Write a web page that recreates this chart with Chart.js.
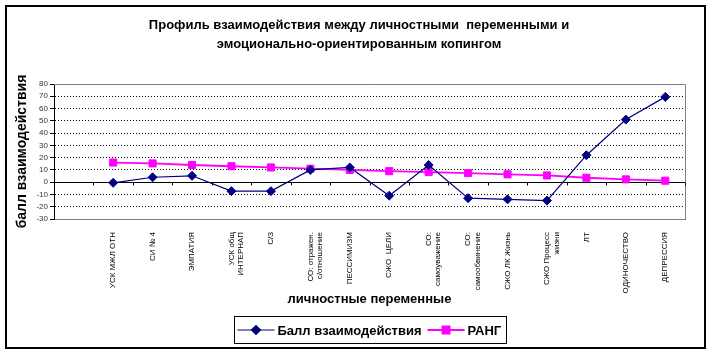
<!DOCTYPE html>
<html>
<head>
<meta charset="utf-8">
<script src="https://cdn.jsdelivr.net/npm/chart.js@4"></script>
<style>
  html, body { margin: 0; padding: 0; background: #fff; }
  #wrap { width: 713px; height: 354px; position: relative; }
</style>
</head>
<body>
<div id="wrap"><canvas id="chart"></canvas></div>
<script>
// Data
const categories = ['', 'УСК МЖЛ ОТН', 'СИ № 4', 'ЭМПАТИЯ', ['УСК общ', 'ИНТЕРНАП'], 'С/З',
    ['СО: отражен.', 'с/отношение'], 'ПЕССИМИЗМ', 'СЖО  ЦЕЛИ', ['СО:', 'самоуважение'],
    ['СО:', 'самообвинение'], 'СЖО ЛК Жизнь', ['СЖО Процесс', 'жизни'], 'ЛТ', 'ОДИНОЧЕСТВО', 'ДЕПРЕССИЯ'];
const scoreValues = [null, -0.5, 4, 5.2, -7.3, -7.3, 10, 12, -11, 14, -13, -14, -15, 22, 51, 69.5];
const rankValues = [null, 16, 15.3, 14, 13, 12, 11, 10, 9, 8.2, 7.4, 6.4, 5.5, 3.6, 2.3, 1.2];
const yTicks = { min: -30, max: 80, step: 10 };

const chartTitle = ['Профиль взаимодействия между личностными  переменными и', 'эмоционально-ориентированным копингом'];
const FONT = "'Liberation Sans', Arial, sans-serif";

// Decorations: outer frame, title, plot frame, ticks on the zero line, boxed legend
const decorPlugin = {
    id: 'decor',
    afterDraw(chart) {
        const ctx = chart.ctx;
        const area = chart.chartArea;
        const x = chart.scales.x;
        const y = chart.scales.y;
        ctx.save();

        // outer frame
        ctx.strokeStyle = '#000';
        ctx.lineWidth = 2;
        ctx.strokeRect(6, 6, 699, 342);

        // title
        ctx.fillStyle = '#000';
        ctx.font = 'bold 13px ' + FONT;
        ctx.textAlign = 'center';
        ctx.textBaseline = 'middle';
        ctx.fillText(chartTitle[0], 359, 25);
        ctx.fillText(chartTitle[1], 359, 44);

        // gray plot frame (top, right)
        ctx.strokeStyle = '#808080';
        ctx.lineWidth = 1;
        ctx.beginPath();
        ctx.moveTo(area.left, area.top + 0.5);
        ctx.lineTo(area.right + 0.5, area.top + 0.5);
        ctx.lineTo(area.right + 0.5, area.bottom);
        ctx.stroke();

        // category ticks on the zero line
        const y0 = Math.round(y.getPixelForValue(0)) + 0.5;
        const half = (x.getPixelForValue(1) - x.getPixelForValue(0)) / 2;
        ctx.strokeStyle = '#000';
        ctx.beginPath();
        for (let i = 0; i < categories.length; i++) {
            const px = Math.round(x.getPixelForValue(i) + half) + 0.5;
            ctx.moveTo(px, y0);
            ctx.lineTo(px, y0 + 3);
        }
        ctx.stroke();

        // legend
        ctx.font = 'bold 13px ' + FONT;
        ctx.textAlign = 'left';
        const sets = chart.data.datasets;
        const lineLen = 37, gap1 = 3, gap2 = 6;
        let total = 0;
        sets.forEach(ds => { total += lineLen + gap1 + ctx.measureText(ds.label).width + gap2; });
        const boxW = Math.round(total + 2);
        const boxX = Math.round((area.left + area.right) / 2 - boxW / 2) + 0.5;
        const boxY = 316.5, boxH = 27;
        ctx.strokeStyle = '#000';
        ctx.lineWidth = 1;
        ctx.strokeRect(boxX, boxY, boxW, boxH);
        let cx = boxX + 3;
        const cy = boxY + boxH / 2;
        sets.forEach(ds => {
            ctx.strokeStyle = ds.borderColor;
            ctx.lineWidth = ds.borderWidth;
            ctx.beginPath();
            ctx.moveTo(cx, cy);
            ctx.lineTo(cx + lineLen, cy);
            ctx.stroke();
            Chart.helpers.drawPoint(ctx, {
                pointStyle: ds.pointStyle, radius: ds.pointRadius, borderWidth: 1, rotation: 0
            }, cx + lineLen / 2, cy);
            ctx.fillStyle = ds.pointBackgroundColor;
            ctx.strokeStyle = ds.pointBorderColor;
            ctx.fill();
            ctx.fillStyle = '#000';
            ctx.fillText(ds.label, cx + lineLen + gap1, cy + 1);
            cx += lineLen + gap1 + ctx.measureText(ds.label).width + gap2;
        });
        ctx.restore();
    }
};

new Chart(document.getElementById('chart'), {
    type: 'line',
    data: {
        labels: categories,
        datasets: [
            {
                label: 'Балл взаимодействия',
                data: scoreValues,
                borderColor: '#000080',
                borderWidth: 1.2,
                pointStyle: 'rectRot',
                pointRadius: 4.5,
                pointBackgroundColor: '#000080',
                pointBorderColor: '#000080',
                pointBorderWidth: 1,
                tension: 0
            },
            {
                label: 'РАНГ',
                data: rankValues,
                borderColor: '#ff00ff',
                borderWidth: 1.8,
                pointStyle: 'rect',
                pointRadius: 5,
                pointBackgroundColor: '#ff00ff',
                pointBorderColor: '#ff00ff',
                pointBorderWidth: 1,
                tension: 0
            }
        ]
    },
    options: {
        responsive: true,
        maintainAspectRatio: false,
        animation: false,
        layout: { padding: { left: 6, right: 28, top: 84, bottom: 47 } },
        plugins: {
            legend: { display: false },
            tooltip: { enabled: false },
            title: { display: false }
        },
        scales: {
            x: {
                type: 'category',
                offset: true,
                grid: { display: false },
                border: { display: true, color: '#808080', width: 1 },
                ticks: {
                    autoSkip: false,
                    minRotation: 90,
                    maxRotation: 90,
                    padding: 5,
                    color: '#000',
                    font: { family: FONT, size: 8 }
                },
                title: {
                    display: true,
                    text: 'личностные переменные',
                    color: '#000',
                    font: { family: FONT, size: 13, weight: 'bold' },
                    padding: { top: 0, bottom: 0 }
                },
                afterFit: (scale) => { scale.height = 88; }
            },
            y: {
                min: yTicks.min,
                max: yTicks.max,
                ticks: {
                    stepSize: yTicks.step,
                    autoSkip: false,
                    padding: 2,
                    color: '#333',
                    font: { family: FONT, size: 8 }
                },
                grid: {
                    color: (ctx) => {
                        const v = ctx.tick ? ctx.tick.value : null;
                        if (v === yTicks.min || v === yTicks.max) return 'rgba(0,0,0,0)';
                        return '#000';
                    },
                    lineWidth: 1,
                    tickLength: 4,
                    tickColor: '#000'
                },
                border: {
                    display: true,
                    color: '#000',
                    width: 1,
                    dash: (ctx) => (ctx.tick && ctx.tick.value === 0) ? [] : [1, 2]
                },
                title: {
                    display: true,
                    text: 'балл взаимодействия',
                    color: '#000',
                    font: { family: FONT, size: 14, weight: 'bold' },
                    padding: { top: 8, bottom: 0 }
                },
                afterFit: (scale) => { scale.width = 48; }
            }
        }
    },
    plugins: [decorPlugin]
});
</script>
</body>
</html>
